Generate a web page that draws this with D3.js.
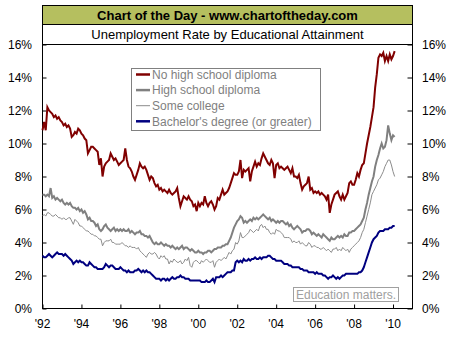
<!DOCTYPE html>
<html><head><meta charset="utf-8">
<script src="https://cdn.jsdelivr.net/npm/d3@7"></script>
<style>
body{margin:0;background:#fff;}
svg{display:block;font-family:"Liberation Sans",Arial,sans-serif;}
</style>
</head><body>
<svg id="chart" width="454" height="340"></svg>
<script>
// ---------- DATA ----------
const title = "Chart of the Day - www.chartoftheday.com";
const subtitle = "Unemployment Rate by Educational Attainment";
const note = "Education matters.";
const startYear = 1992; // monthly values starting January 1992
const xTickYears = [1992, 1994, 1996, 1998, 2000, 2002, 2004, 2006, 2008, 2010];
const xTickLabels = ["'92", "'94", "'96", "'98", "'00", "'02", "'04", "'06", "'08", "'10"];
const yTicks = [0, 2, 4, 6, 8, 10, 12, 14, 16];
const seriesNames = ["No high school diploma", "High school diploma", "Some college", "Bachelor's degree (or greater)"];

const noHighSchool = [
  10.8, 11.3, 10.8, 12.2, 12.0, 11.9, 11.8, 11.6, 11.7, 11.5, 11.6, 11.4,
  11.3, 11.1, 11.2, 11.0, 11.1, 10.9, 10.4, 10.5, 10.7, 10.6, 10.9, 10.8,
  10.6, 10.5, 10.3, 10.2, 9.4, 9.6, 9.8, 9.8, 9.7, 9.6, 9.5, 8.7,
  9.1, 8.0, 8.6, 8.8, 8.9, 9.0, 9.4, 9.2, 9.0, 9.1, 8.9, 8.7,
  8.8, 8.9, 9.0, 9.7, 9.0, 8.6, 8.5, 8.3, 8.0, 7.8, 8.1, 8.4,
  8.8, 8.6, 8.5, 8.6, 8.4, 8.1, 7.8, 8.0, 7.9, 7.6, 7.4, 7.5,
  7.2, 7.3, 7.1, 7.2, 7.1, 7.0, 7.2, 7.0, 6.9, 7.0, 7.1, 7.3,
  6.7, 6.2, 6.5, 6.8, 6.7, 6.6, 6.8, 6.6, 6.5, 6.2, 6.3, 5.9,
  6.4, 6.2, 6.4, 6.3, 6.8, 6.4, 6.2, 6.4, 6.5, 6.3, 6.0, 6.2,
  6.7, 6.6, 6.9, 7.2, 6.9, 7.0, 7.1, 7.3, 7.6, 7.9, 8.2, 8.1,
  8.1, 8.3, 9.0, 7.9, 8.4, 8.3, 8.4, 8.5, 7.7, 8.3, 8.6, 8.9,
  8.6, 8.8, 8.7, 9.1, 9.4, 9.2, 9.0, 8.8, 8.7, 9.0, 8.8, 7.9,
  8.7, 8.8, 8.5, 8.6, 8.5, 8.4, 8.5, 8.6, 8.4, 8.2, 8.5, 8.0,
  8.0, 7.9, 8.1, 7.6, 7.2, 7.4, 7.5, 7.6, 8.0, 7.2, 7.3, 7.0,
  7.1, 7.0, 7.1, 6.9, 7.0, 6.9, 6.8, 6.6, 6.9, 5.8, 6.3, 6.6,
  6.9, 7.0, 7.1, 6.8, 6.6, 6.9, 6.6, 6.8, 7.0, 7.6, 7.7, 7.5,
  7.5, 7.8, 8.2, 8.0, 8.4, 8.7, 8.8, 9.4, 10.0, 10.5, 11.0, 11.6,
  12.2, 13.4, 14.2, 15.2, 15.4, 15.3, 15.5, 15.0, 15.3, 15.0, 15.4, 15.1,
  15.3, 15.6
];
const highSchool = [
  6.9, 6.9, 6.8, 6.9, 6.8, 7.3, 6.7, 6.8, 6.6, 6.7, 6.6, 6.5,
  6.6, 6.4, 6.3, 6.4, 6.3, 6.4, 6.2, 6.1, 6.1, 6.0, 6.1, 5.9,
  6.0, 5.8, 5.9, 5.7, 5.4, 5.5, 5.3, 5.3, 5.2, 5.0, 5.1, 4.8,
  4.7, 4.8, 5.0, 5.1, 4.9, 4.8, 4.7, 4.8, 4.9, 4.7, 4.8, 4.7,
  4.8, 4.7, 4.8, 4.7, 4.7, 4.8, 4.6, 4.7, 4.6, 4.5, 4.6, 4.6,
  4.7, 4.5, 4.5, 4.4, 4.4, 4.3, 4.4, 4.2, 4.0, 3.9, 4.0, 3.9,
  3.9, 4.0, 3.9, 3.8, 3.9, 3.8, 3.8, 3.7, 3.8, 3.7, 3.6, 3.7,
  3.6, 3.7, 3.8, 3.6, 3.7, 3.7, 3.6, 3.5, 3.6, 3.5, 3.4, 3.4,
  3.5, 3.4, 3.4, 3.3, 3.4, 3.4, 3.5, 3.5, 3.4, 3.5, 3.6, 3.6,
  3.7, 3.7, 3.7, 3.8, 3.8, 3.9, 3.9, 4.1, 4.3, 4.6, 4.9, 5.1,
  5.3, 5.4, 5.6, 5.5, 5.2, 5.3, 5.2, 5.3, 5.4, 5.3, 5.5, 5.4,
  5.5, 5.4, 5.5, 5.6, 5.7, 5.6, 5.5, 5.4, 5.5, 5.3, 5.4, 5.3,
  5.2, 5.3, 5.2, 5.3, 5.3, 5.2, 5.1, 5.2, 5.0, 5.1, 4.9, 4.8,
  4.9, 5.0, 4.9, 4.8, 4.6, 4.7, 4.7, 4.8, 4.8, 4.7, 4.5, 4.6,
  4.5, 4.4, 4.5, 4.4, 4.3, 4.5, 4.4, 4.3, 4.2, 4.1, 4.3, 4.2,
  4.2, 4.3, 4.4, 4.3, 4.4, 4.3, 4.5, 4.4, 4.4, 4.6, 4.6, 4.7,
  4.7, 4.8, 4.9, 5.0, 5.1, 5.3, 5.5, 6.0, 6.4, 6.9, 7.3, 7.7,
  8.0, 8.6, 9.0, 9.3, 9.7, 10.0, 9.7, 9.8, 10.2, 11.1, 10.6, 10.2,
  10.5, 10.4
];
const someCollege = [
  5.6, 5.7, 5.6, 5.8, 5.8, 5.7, 5.6, 5.6, 5.7, 5.6, 5.5, 5.5,
  5.4, 5.5, 5.4, 5.4, 5.5, 5.5, 5.3, 5.1, 5.4, 5.3, 5.2, 5.0,
  5.0, 4.9, 4.8, 4.7, 4.7, 4.6, 4.5, 4.5, 4.4, 4.4, 4.3, 4.2,
  4.2, 3.8, 4.0, 4.1, 4.1, 4.1, 4.2, 4.0, 4.0, 3.9, 3.9, 3.9,
  3.9, 4.0, 3.9, 3.8, 3.8, 3.7, 3.8, 3.7, 3.7, 3.7, 3.6, 3.7,
  3.5, 3.4, 3.3, 3.2, 3.1, 3.3, 3.4, 3.3, 3.3, 3.4, 3.3, 3.1,
  3.0, 3.2, 3.1, 3.2, 3.0, 3.0, 2.7, 2.9, 2.8, 3.0, 2.9, 2.8,
  2.8, 2.9, 2.7, 2.8, 3.0, 2.9, 3.1, 2.6, 2.5, 2.8, 2.9, 2.9,
  2.8, 2.7, 2.9, 2.8, 2.9, 3.0, 2.9, 2.8, 2.8, 2.9, 2.5, 2.8,
  2.9, 3.0, 2.9, 3.0, 3.1, 3.0, 3.2, 3.4, 3.3, 3.5, 3.6, 4.0,
  3.9, 4.1, 4.6, 4.3, 4.3, 4.4, 4.5, 4.6, 4.8, 4.7, 4.6, 4.7,
  4.8, 4.7, 5.0, 5.1, 4.9, 5.0, 4.8, 4.8, 4.6, 4.5, 4.6, 4.5,
  4.8, 4.7, 4.7, 4.6, 4.5, 4.3, 4.3, 4.3, 4.3, 4.2, 4.0, 4.1,
  4.0, 4.0, 4.1, 3.9, 4.0, 3.9, 3.8, 3.8, 4.0, 3.9, 3.7, 3.8,
  3.8, 3.7, 3.7, 3.6, 3.6, 3.7, 3.6, 3.5, 3.6, 3.5, 3.4, 3.6,
  3.6, 3.7, 3.5, 3.6, 3.5, 3.7, 3.6, 3.5, 3.6, 3.4, 3.6, 3.7,
  3.8, 3.9, 4.0, 4.1, 4.3, 4.6, 4.8, 5.2, 5.6, 6.0, 6.4, 6.9,
  7.1, 7.3, 7.5, 7.8, 7.9, 8.1, 8.3, 8.6, 8.8, 9.0, 9.0, 8.7,
  8.3, 8.0
];
const bachelors = [
  3.2, 3.1, 3.1, 3.2, 3.3, 3.2, 3.1, 3.2, 3.3, 3.4, 3.3, 3.3,
  3.3, 3.2, 3.3, 3.2, 3.1, 3.0, 2.9, 2.7, 2.8, 2.9, 2.8, 2.9,
  2.8, 2.8, 2.7, 2.6, 2.6, 2.8, 2.7, 2.6, 2.5, 2.5, 2.4, 2.4,
  2.4, 2.4, 2.5, 2.7, 2.6, 2.5, 2.6, 2.6, 2.5, 2.4, 2.4, 2.4,
  2.5, 2.4, 2.3, 2.3, 2.2, 2.3, 2.2, 2.2, 2.2, 2.3, 2.3, 2.4,
  2.3, 2.2, 2.3, 2.2, 2.3, 2.2, 2.2, 2.1, 2.0, 1.9, 1.8, 1.8,
  1.8, 1.7, 1.8, 1.8, 1.7, 1.8, 1.7, 1.8, 1.9, 1.8, 1.8, 1.9,
  1.9, 2.0, 1.9, 1.9, 1.8, 1.8, 1.8, 1.7, 1.7, 1.7, 1.7, 1.7,
  1.7, 1.7, 1.6, 1.6, 1.6, 1.7, 1.6, 1.6, 1.7, 1.8, 1.6, 1.9,
  1.9, 1.9, 2.0, 1.9, 2.0, 2.1, 2.2, 2.2, 2.2, 2.3, 2.3, 2.8,
  2.9, 2.8, 2.9, 2.8, 3.0, 2.9, 2.9, 3.0, 2.9, 3.0, 3.0, 3.1,
  3.0, 3.0, 3.1, 3.0, 3.1, 3.1, 3.1, 3.2, 3.2, 3.1, 3.0, 3.0,
  2.9, 2.9, 2.9, 2.9, 2.8, 2.7, 2.7, 2.7, 2.6, 2.6, 2.5, 2.5,
  2.5, 2.5, 2.5, 2.4, 2.4, 2.3, 2.3, 2.3, 2.2, 2.2, 2.2, 2.2,
  2.1, 2.2, 2.1, 2.1, 2.1, 2.0, 2.0, 1.9, 1.8, 1.9, 1.9, 2.0,
  1.9, 1.8, 1.9, 1.8, 1.9, 2.0, 2.0, 2.1, 2.1, 2.1, 2.1, 2.1,
  2.1, 2.1, 2.1, 2.2, 2.2, 2.3, 2.5, 2.8, 3.1, 3.4, 3.7, 4.0,
  4.2, 4.3, 4.4, 4.6, 4.7, 4.7, 4.7, 4.8, 4.8, 4.8, 4.9, 4.9,
  5.0, 5.0
];

// ---------- CHART ----------
const series = [
  {name: seriesNames[0], values: noHighSchool, color: "#800000", width: 2},
  {name: seriesNames[1], values: highSchool, color: "#808080", width: 2},
  {name: seriesNames[2], values: someCollege, color: "#8c8c8c", width: 1},
  {name: seriesNames[3], values: bachelors, color: "#000080", width: 2}
];

const svg = d3.select("#chart");
const L = 42.5, R = 412.5, T = 44.5, B = 308.5;
const x = d3.scaleLinear().domain([1992, 2011]).range([L, R]);
const y = d3.scaleLinear().domain([0, 16]).range([B, T]);

// header boxes
svg.append("rect").attr("x", L).attr("y", 5.5).attr("width", R - L).attr("height", 19)
  .attr("fill", "#b5bf5f").attr("stroke", "#000").attr("stroke-width", 1);
svg.append("rect").attr("x", L).attr("y", 24.5).attr("width", R - L).attr("height", 20)
  .attr("fill", "#fff").attr("stroke", "#000").attr("stroke-width", 1);
svg.append("text").attr("x", (L + R) / 2).attr("y", 19.5).attr("text-anchor", "middle")
  .attr("font-size", 13).attr("font-weight", "bold").attr("fill", "#000").text(title);
svg.append("text").attr("x", (L + R) / 2).attr("y", 38.5).attr("text-anchor", "middle")
  .attr("font-size", 13).attr("fill", "#000").text(subtitle);

// plot frame
svg.append("rect").attr("x", L).attr("y", T).attr("width", R - L).attr("height", B - T)
  .attr("fill", "#fff").attr("stroke", "#000").attr("stroke-width", 1);

// axes (inward ticks)
const leftAxis = d3.axisRight(y).tickValues(yTicks).tickSize(4).tickFormat("");
const rightAxis = d3.axisLeft(y).tickValues(yTicks).tickSize(5).tickFormat("");
const bottomAxis = d3.axisTop(x).tickValues(xTickYears).tickSize(4).tickFormat("");
svg.append("g").attr("transform", `translate(${L},0)`).call(leftAxis);
svg.append("g").attr("transform", `translate(${R},0)`).call(rightAxis);
svg.append("g").attr("transform", `translate(0,${B})`).call(bottomAxis);
svg.selectAll(".domain").remove();
svg.selectAll(".tick line").attr("stroke", "#000");

// tick labels
const yl = svg.append("g").attr("font-size", 12).attr("fill", "#000");
yTicks.forEach(v => {
  yl.append("text").attr("x", 32).attr("y", y(v) + 4.5).attr("text-anchor", "end").text(v + "%");
  yl.append("text").attr("x", 422).attr("y", y(v) + 4.5).attr("text-anchor", "start").text(v + "%");
});
const xl = svg.append("g").attr("font-size", 12).attr("fill", "#000");
xTickYears.forEach((yr, i) => {
  xl.append("text").attr("x", x(yr)).attr("y", 327.5).attr("text-anchor", "middle").text(xTickLabels[i]);
});

// lines
const line = d3.line().x((d, i) => x(startYear + i / 12)).y(d => y(d));
series.slice().reverse().forEach(s => {
  svg.append("path").datum(s.values).attr("d", line)
    .attr("fill", "none").attr("stroke", s.color).attr("stroke-width", s.width)
    .attr("stroke-linejoin", "miter");
});

// legend
const lg = svg.append("g");
lg.append("rect").attr("x", 131.5).attr("y", 68.5).attr("width", 189).attr("height", 62)
  .attr("fill", "#fff").attr("stroke", "#808080").attr("stroke-width", 1);
series.forEach((s, i) => {
  const cy = 74.5 + i * 15.6;
  lg.append("line").attr("x1", 136).attr("x2", 150).attr("y1", cy).attr("y2", cy)
    .attr("stroke", s.color).attr("stroke-width", s.width === 1 ? 1 : 2.5);
  lg.append("text").attr("x", 152).attr("y", cy + 4.3).attr("font-size", 12)
    .attr("fill", "#7f7f7f").text(s.name);
});

// note box
svg.append("rect").attr("x", 293.5).attr("y", 287.5).attr("width", 105).attr("height", 14)
  .attr("fill", "#fff").attr("stroke", "#a0a0a0").attr("stroke-width", 1);
svg.append("text").attr("x", 296).attr("y", 299).attr("font-size", 12)
  .attr("fill", "#a0a0a0").text(note);
</script>
</body></html>
